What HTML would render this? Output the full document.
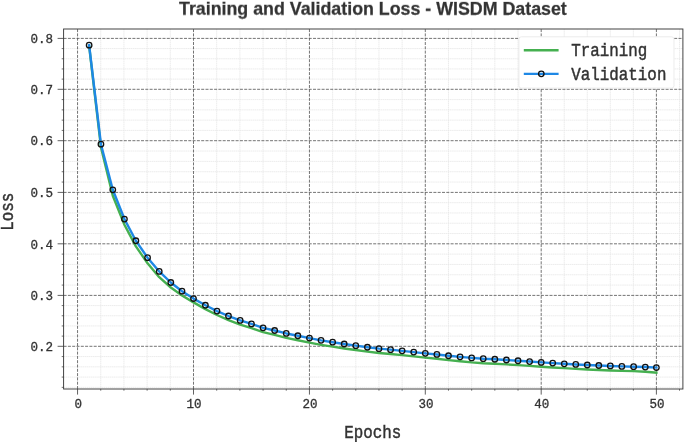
<!DOCTYPE html>
<html><head><meta charset="utf-8"><title>Training and Validation Loss - WISDM Dataset</title>
<style>html,body{margin:0;padding:0;background:#fff;}body{width:685px;height:442px;overflow:hidden;font-family:"Liberation Sans",sans-serif;}svg{display:block;}</style>
</head><body>
<svg width="685" height="442" viewBox="0 0 685 442">
<rect width="685" height="442" fill="#fff"/>
<g stroke="#e7e7e7" stroke-width="0.8" stroke-dasharray="1.6 0.5" fill="none">
<path d="M100.74,29.0 V389.0"/>
<path d="M123.93,29.0 V389.0"/>
<path d="M147.12,29.0 V389.0"/>
<path d="M170.31,29.0 V389.0"/>
<path d="M216.69,29.0 V389.0"/>
<path d="M239.88,29.0 V389.0"/>
<path d="M263.07,29.0 V389.0"/>
<path d="M286.26,29.0 V389.0"/>
<path d="M332.62,29.0 V389.0"/>
<path d="M355.79,29.0 V389.0"/>
<path d="M378.96,29.0 V389.0"/>
<path d="M402.13,29.0 V389.0"/>
<path d="M448.48,29.0 V389.0"/>
<path d="M471.66,29.0 V389.0"/>
<path d="M494.84,29.0 V389.0"/>
<path d="M518.02,29.0 V389.0"/>
<path d="M564.24,29.0 V389.0"/>
<path d="M587.28,29.0 V389.0"/>
<path d="M610.32,29.0 V389.0"/>
<path d="M633.36,29.0 V389.0"/>
<path d="M679.50,29.0 V389.0"/>
<path d="M63.6,387.36 H682.9"/>
<path d="M63.6,377.09 H682.9"/>
<path d="M63.6,366.83 H682.9"/>
<path d="M63.6,356.56 H682.9"/>
<path d="M63.6,336.12 H682.9"/>
<path d="M63.6,325.94 H682.9"/>
<path d="M63.6,315.76 H682.9"/>
<path d="M63.6,305.58 H682.9"/>
<path d="M63.6,285.08 H682.9"/>
<path d="M63.6,274.76 H682.9"/>
<path d="M63.6,264.44 H682.9"/>
<path d="M63.6,254.12 H682.9"/>
<path d="M63.6,233.52 H682.9"/>
<path d="M63.6,223.24 H682.9"/>
<path d="M63.6,212.96 H682.9"/>
<path d="M63.6,202.68 H682.9"/>
<path d="M63.6,182.06 H682.9"/>
<path d="M63.6,171.72 H682.9"/>
<path d="M63.6,161.38 H682.9"/>
<path d="M63.6,151.04 H682.9"/>
<path d="M63.6,130.42 H682.9"/>
<path d="M63.6,120.14 H682.9"/>
<path d="M63.6,109.86 H682.9"/>
<path d="M63.6,99.58 H682.9"/>
<path d="M63.6,79.12 H682.9"/>
<path d="M63.6,68.94 H682.9"/>
<path d="M63.6,58.76 H682.9"/>
<path d="M63.6,48.58 H682.9"/>
</g>
<g stroke="#505050" stroke-width="0.8" stroke-dasharray="3 1.3" fill="none">
<path d="M77.55,389.0 V29.0"/>
<path d="M193.50,389.0 V29.0"/>
<path d="M309.45,389.0 V29.0"/>
<path d="M425.30,389.0 V29.0"/>
<path d="M541.20,389.0 V29.0"/>
<path d="M656.40,389.0 V29.0"/>
<path d="M63.6,346.30 H682.9"/>
<path d="M63.6,295.40 H682.9"/>
<path d="M63.6,243.80 H682.9"/>
<path d="M63.6,192.40 H682.9"/>
<path d="M63.6,140.70 H682.9"/>
<path d="M63.6,89.30 H682.9"/>
<path d="M63.6,38.40 H682.9"/>
</g>
<path d="M89.14,46.00 L100.94,147.20 L112.79,195.80 L124.43,224.75 L135.88,246.35 L147.57,263.30 L159.22,277.15 L170.81,287.50 L182.00,295.50 L193.50,302.40 L205.40,309.09 L216.99,315.02 L228.48,320.05 L240.18,324.56 L251.47,328.19 L263.07,332.15 L274.66,334.90 L286.26,337.92 L297.86,340.23 L309.45,342.59 L321.03,344.83 L332.62,346.67 L344.20,348.46 L355.79,350.03 L367.38,351.61 L378.96,352.99 L390.55,353.94 L402.13,355.12 L413.72,356.35 L425.30,357.60 L436.89,358.73 L448.48,360.09 L460.07,361.24 L471.66,362.35 L483.25,363.20 L494.84,363.70 L506.43,364.42 L518.02,365.14 L529.61,365.89 L541.20,366.70 L552.72,367.44 L564.24,368.16 L575.76,368.86 L587.28,369.45 L598.80,369.97 L610.32,370.46 L621.84,370.84 L633.61,371.10 L645.28,371.77 L656.40,372.60" fill="none" stroke="#45B050" stroke-width="2.4" stroke-linejoin="round" stroke-linecap="square"/>
<path d="M89.14,45.20 L100.94,144.20 L112.79,189.80 L124.43,219.05 L135.88,240.75 L147.57,257.70 L159.22,271.45 L170.81,282.50 L182.00,291.20 L193.50,298.60 L205.40,305.25 L216.99,311.10 L228.48,316.02 L240.18,320.43 L251.47,323.95 L263.07,327.82 L274.66,330.50 L286.26,333.46 L297.86,335.74 L309.45,338.09 L321.03,340.34 L332.62,342.20 L344.20,344.02 L355.79,345.64 L367.38,347.25 L378.96,348.66 L390.55,349.65 L402.13,350.85 L413.72,352.10 L425.30,353.35 L436.89,354.45 L448.48,355.75 L460.07,356.83 L471.66,357.88 L483.25,358.70 L494.84,359.23 L506.43,360.00 L518.02,360.77 L529.61,361.57 L541.20,362.40 L552.72,363.12 L564.24,363.80 L575.76,364.45 L587.28,365.00 L598.80,365.49 L610.32,365.96 L621.84,366.39 L633.61,366.70 L645.28,367.07 L656.40,367.60" fill="none" stroke="#1E88E5" stroke-width="2.4" stroke-linejoin="round" stroke-linecap="square"/>
<g fill="none" stroke="#111" stroke-width="1.3">
<circle cx="89.14" cy="45.20" r="2.75"/>
<circle cx="100.94" cy="144.20" r="2.75"/>
<circle cx="112.79" cy="189.80" r="2.75"/>
<circle cx="124.43" cy="219.05" r="2.75"/>
<circle cx="135.88" cy="240.75" r="2.75"/>
<circle cx="147.57" cy="257.70" r="2.75"/>
<circle cx="159.22" cy="271.45" r="2.75"/>
<circle cx="170.81" cy="282.50" r="2.75"/>
<circle cx="182.00" cy="291.20" r="2.75"/>
<circle cx="193.50" cy="298.60" r="2.75"/>
<circle cx="205.40" cy="305.25" r="2.75"/>
<circle cx="216.99" cy="311.10" r="2.75"/>
<circle cx="228.48" cy="316.02" r="2.75"/>
<circle cx="240.18" cy="320.43" r="2.75"/>
<circle cx="251.47" cy="323.95" r="2.75"/>
<circle cx="263.07" cy="327.82" r="2.75"/>
<circle cx="274.66" cy="330.50" r="2.75"/>
<circle cx="286.26" cy="333.46" r="2.75"/>
<circle cx="297.86" cy="335.74" r="2.75"/>
<circle cx="309.45" cy="338.09" r="2.75"/>
<circle cx="321.03" cy="340.34" r="2.75"/>
<circle cx="332.62" cy="342.20" r="2.75"/>
<circle cx="344.20" cy="344.02" r="2.75"/>
<circle cx="355.79" cy="345.64" r="2.75"/>
<circle cx="367.38" cy="347.25" r="2.75"/>
<circle cx="378.96" cy="348.66" r="2.75"/>
<circle cx="390.55" cy="349.65" r="2.75"/>
<circle cx="402.13" cy="350.85" r="2.75"/>
<circle cx="413.72" cy="352.10" r="2.75"/>
<circle cx="425.30" cy="353.35" r="2.75"/>
<circle cx="436.89" cy="354.45" r="2.75"/>
<circle cx="448.48" cy="355.75" r="2.75"/>
<circle cx="460.07" cy="356.83" r="2.75"/>
<circle cx="471.66" cy="357.88" r="2.75"/>
<circle cx="483.25" cy="358.70" r="2.75"/>
<circle cx="494.84" cy="359.23" r="2.75"/>
<circle cx="506.43" cy="360.00" r="2.75"/>
<circle cx="518.02" cy="360.77" r="2.75"/>
<circle cx="529.61" cy="361.57" r="2.75"/>
<circle cx="541.20" cy="362.40" r="2.75"/>
<circle cx="552.72" cy="363.12" r="2.75"/>
<circle cx="564.24" cy="363.80" r="2.75"/>
<circle cx="575.76" cy="364.45" r="2.75"/>
<circle cx="587.28" cy="365.00" r="2.75"/>
<circle cx="598.80" cy="365.49" r="2.75"/>
<circle cx="610.32" cy="365.96" r="2.75"/>
<circle cx="621.84" cy="366.39" r="2.75"/>
<circle cx="633.61" cy="366.70" r="2.75"/>
<circle cx="645.28" cy="367.07" r="2.75"/>
<circle cx="656.40" cy="367.60" r="2.75"/>
</g>
<g stroke="#3a3a3a" stroke-width="0.8" fill="none">
<path d="M77.55,389.0 v5.6"/>
<path d="M193.50,389.0 v5.6"/>
<path d="M309.45,389.0 v5.6"/>
<path d="M425.30,389.0 v5.6"/>
<path d="M541.20,389.0 v5.6"/>
<path d="M656.40,389.0 v5.6"/>
<path d="M100.74,389.0 v1.7" stroke-width="0.7"/>
<path d="M123.93,389.0 v1.7" stroke-width="0.7"/>
<path d="M147.12,389.0 v1.7" stroke-width="0.7"/>
<path d="M170.31,389.0 v1.7" stroke-width="0.7"/>
<path d="M216.69,389.0 v1.7" stroke-width="0.7"/>
<path d="M239.88,389.0 v1.7" stroke-width="0.7"/>
<path d="M263.07,389.0 v1.7" stroke-width="0.7"/>
<path d="M286.26,389.0 v1.7" stroke-width="0.7"/>
<path d="M332.62,389.0 v1.7" stroke-width="0.7"/>
<path d="M355.79,389.0 v1.7" stroke-width="0.7"/>
<path d="M378.96,389.0 v1.7" stroke-width="0.7"/>
<path d="M402.13,389.0 v1.7" stroke-width="0.7"/>
<path d="M448.48,389.0 v1.7" stroke-width="0.7"/>
<path d="M471.66,389.0 v1.7" stroke-width="0.7"/>
<path d="M494.84,389.0 v1.7" stroke-width="0.7"/>
<path d="M518.02,389.0 v1.7" stroke-width="0.7"/>
<path d="M564.24,389.0 v1.7" stroke-width="0.7"/>
<path d="M587.28,389.0 v1.7" stroke-width="0.7"/>
<path d="M610.32,389.0 v1.7" stroke-width="0.7"/>
<path d="M633.36,389.0 v1.7" stroke-width="0.7"/>
<path d="M679.50,389.0 v1.7" stroke-width="0.7"/>
<path d="M63.6,346.30 h-6"/>
<path d="M63.6,295.40 h-6"/>
<path d="M63.6,243.80 h-6"/>
<path d="M63.6,192.40 h-6"/>
<path d="M63.6,140.70 h-6"/>
<path d="M63.6,89.30 h-6"/>
<path d="M63.6,38.40 h-6"/>
<path d="M63.6,387.36 h-1.9" stroke-width="0.7"/>
<path d="M63.6,377.09 h-1.9" stroke-width="0.7"/>
<path d="M63.6,366.83 h-1.9" stroke-width="0.7"/>
<path d="M63.6,356.56 h-1.9" stroke-width="0.7"/>
<path d="M63.6,336.12 h-1.9" stroke-width="0.7"/>
<path d="M63.6,325.94 h-1.9" stroke-width="0.7"/>
<path d="M63.6,315.76 h-1.9" stroke-width="0.7"/>
<path d="M63.6,305.58 h-1.9" stroke-width="0.7"/>
<path d="M63.6,285.08 h-1.9" stroke-width="0.7"/>
<path d="M63.6,274.76 h-1.9" stroke-width="0.7"/>
<path d="M63.6,264.44 h-1.9" stroke-width="0.7"/>
<path d="M63.6,254.12 h-1.9" stroke-width="0.7"/>
<path d="M63.6,233.52 h-1.9" stroke-width="0.7"/>
<path d="M63.6,223.24 h-1.9" stroke-width="0.7"/>
<path d="M63.6,212.96 h-1.9" stroke-width="0.7"/>
<path d="M63.6,202.68 h-1.9" stroke-width="0.7"/>
<path d="M63.6,182.06 h-1.9" stroke-width="0.7"/>
<path d="M63.6,171.72 h-1.9" stroke-width="0.7"/>
<path d="M63.6,161.38 h-1.9" stroke-width="0.7"/>
<path d="M63.6,151.04 h-1.9" stroke-width="0.7"/>
<path d="M63.6,130.42 h-1.9" stroke-width="0.7"/>
<path d="M63.6,120.14 h-1.9" stroke-width="0.7"/>
<path d="M63.6,109.86 h-1.9" stroke-width="0.7"/>
<path d="M63.6,99.58 h-1.9" stroke-width="0.7"/>
<path d="M63.6,79.12 h-1.9" stroke-width="0.7"/>
<path d="M63.6,68.94 h-1.9" stroke-width="0.7"/>
<path d="M63.6,58.76 h-1.9" stroke-width="0.7"/>
<path d="M63.6,48.58 h-1.9" stroke-width="0.7"/>
</g>
<rect x="63.6" y="29.0" width="619.30" height="360.00" fill="none" stroke="#3a3a3a" stroke-width="0.95"/>
<rect x="518.9" y="36.8" width="155.1" height="51.3" rx="2.5" fill="#fff" stroke="#e4e4e4" stroke-width="0.7"/>
<path d="M523.8,50.25 H558.6" stroke="#45B050" stroke-width="2.4"/>
<path d="M523.8,73.85 H558.6" stroke="#1E88E5" stroke-width="2.4"/>
<circle cx="541.3" cy="73.85" r="2.75" fill="none" stroke="#111" stroke-width="1.3"/>
<g opacity="0.999">
<text transform="translate(571.3,56.4) scale(1,1.13)" font-family="Liberation Mono, monospace" font-size="15.85" text-anchor="start" fill="#333333" stroke="#333333" stroke-width="0.4" >Training</text>
<text transform="translate(571.3,80.0) scale(1,1.13)" font-family="Liberation Mono, monospace" font-size="15.85" text-anchor="start" fill="#333333" stroke="#333333" stroke-width="0.4" >Validation</text>
<text transform="translate(78.15,408.3) scale(1,1.06)" font-family="Liberation Mono, monospace" font-size="12.55" text-anchor="middle" fill="#333333" stroke="#333333" stroke-width="0.3" >0</text>
<text transform="translate(194.1,408.3) scale(1,1.06)" font-family="Liberation Mono, monospace" font-size="12.55" text-anchor="middle" fill="#333333" stroke="#333333" stroke-width="0.3" >10</text>
<text transform="translate(310.05,408.3) scale(1,1.06)" font-family="Liberation Mono, monospace" font-size="12.55" text-anchor="middle" fill="#333333" stroke="#333333" stroke-width="0.3" >20</text>
<text transform="translate(425.9,408.3) scale(1,1.06)" font-family="Liberation Mono, monospace" font-size="12.55" text-anchor="middle" fill="#333333" stroke="#333333" stroke-width="0.3" >30</text>
<text transform="translate(541.8,408.3) scale(1,1.06)" font-family="Liberation Mono, monospace" font-size="12.55" text-anchor="middle" fill="#333333" stroke="#333333" stroke-width="0.3" >40</text>
<text transform="translate(657.0,408.3) scale(1,1.06)" font-family="Liberation Mono, monospace" font-size="12.55" text-anchor="middle" fill="#333333" stroke="#333333" stroke-width="0.3" >50</text>
<text transform="translate(53.1,351.05) scale(1,1.06)" font-family="Liberation Mono, monospace" font-size="12.55" text-anchor="end" fill="#333333" stroke="#333333" stroke-width="0.3" >0.2</text>
<text transform="translate(53.1,300.15) scale(1,1.06)" font-family="Liberation Mono, monospace" font-size="12.55" text-anchor="end" fill="#333333" stroke="#333333" stroke-width="0.3" >0.3</text>
<text transform="translate(53.1,248.55) scale(1,1.06)" font-family="Liberation Mono, monospace" font-size="12.55" text-anchor="end" fill="#333333" stroke="#333333" stroke-width="0.3" >0.4</text>
<text transform="translate(53.1,197.15) scale(1,1.06)" font-family="Liberation Mono, monospace" font-size="12.55" text-anchor="end" fill="#333333" stroke="#333333" stroke-width="0.3" >0.5</text>
<text transform="translate(53.1,145.45) scale(1,1.06)" font-family="Liberation Mono, monospace" font-size="12.55" text-anchor="end" fill="#333333" stroke="#333333" stroke-width="0.3" >0.6</text>
<text transform="translate(53.1,94.05) scale(1,1.06)" font-family="Liberation Mono, monospace" font-size="12.55" text-anchor="end" fill="#333333" stroke="#333333" stroke-width="0.3" >0.7</text>
<text transform="translate(53.1,43.15) scale(1,1.06)" font-family="Liberation Mono, monospace" font-size="12.55" text-anchor="end" fill="#333333" stroke="#333333" stroke-width="0.3" >0.8</text>
<text transform="translate(372.8,437.55) scale(1,1.13)" font-family="Liberation Mono, monospace" font-size="15.85" text-anchor="middle" fill="#333333" stroke="#333333" stroke-width="0.4" >Epochs</text>
<text transform="translate(13.3,211.7) rotate(-90) scale(1,1.13)" font-family="Liberation Mono, monospace" font-size="15.85" text-anchor="middle" fill="#333333" stroke="#333333" stroke-width="0.4">Loss</text>
<text transform="translate(179.0,14.7) rotate(0.03)" font-family="Liberation Sans, sans-serif" font-weight="bold" font-size="18.7" textLength="387.8" lengthAdjust="spacingAndGlyphs" fill="#333333" stroke="#333333" stroke-width="0.25">Training and Validation Loss - WISDM Dataset</text>
</g>
</svg>
</body></html>
